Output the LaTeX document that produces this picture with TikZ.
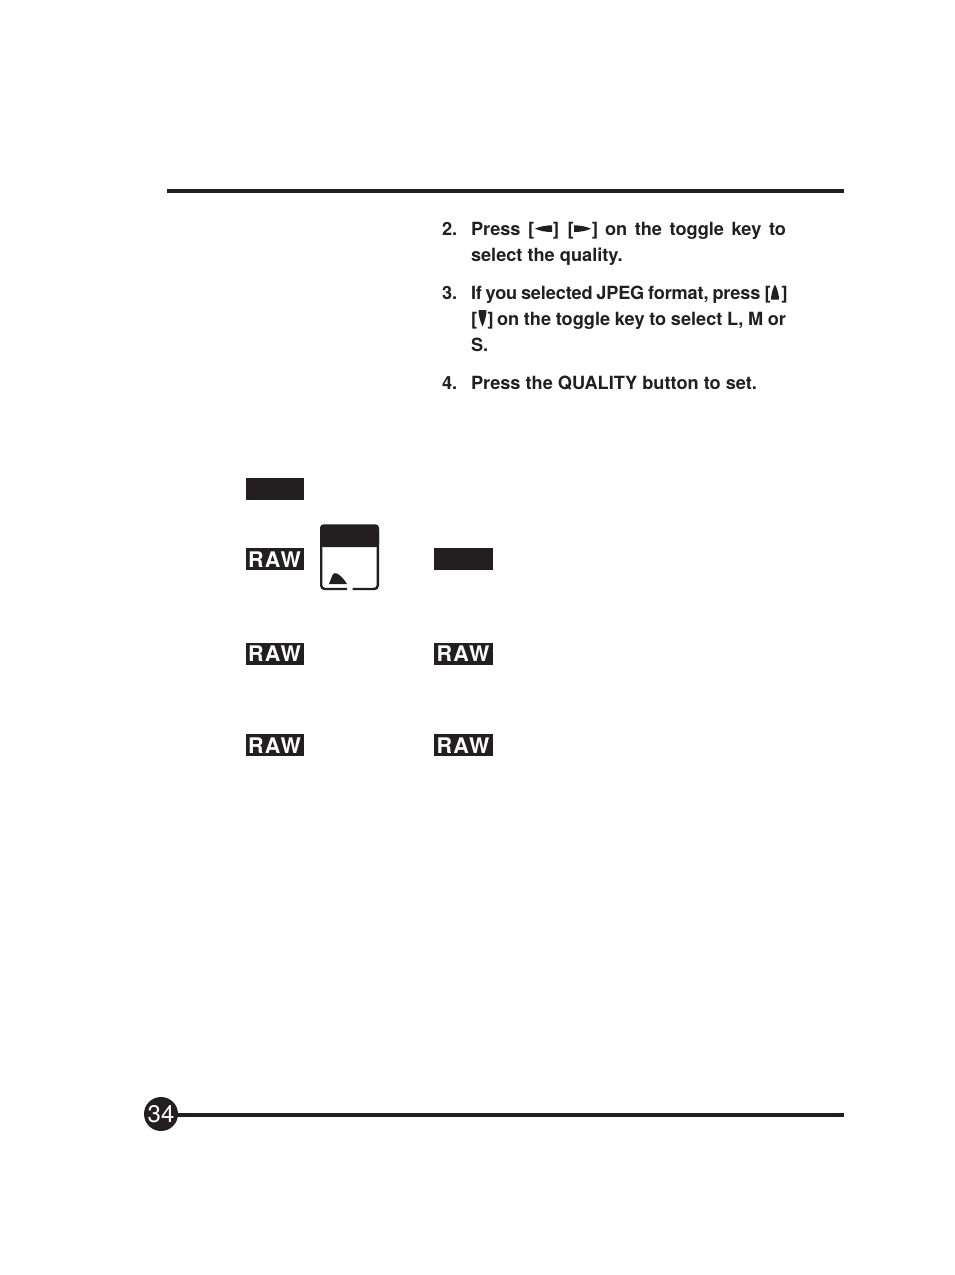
\documentclass[tikz,border=0pt]{standalone}
\usepackage{fontspec}
\setmainfont{TeX Gyre Heros}
\definecolor{ink}{HTML}{231F20}
\tikzset{
  body/.style={anchor=base west,inner sep=0pt,outer sep=0pt,text=ink,font=\fontsize{18.17}{22}\selectfont\bfseries},
  rawbox/.style={anchor=north west,fill=ink,inner sep=0pt,minimum height=22pt,text=white,font=\fontsize{21.5}{22}\selectfont\bfseries},
  glyph/.style={fill=ink,draw=none},
  rule/.style={fill=ink,draw=none}
}
\newcommand{\rawtext}{\addfontfeature{LetterSpace=6}RAW\hspace*{1.2pt}}
\begin{document}
\begin{tikzpicture}[x=1pt,y=-1pt]
\useasboundingbox (0,0) rectangle (954,1275);
\fill[white] (0,0) rectangle (954,1275);
% rules
\fill[rule] (167,189) rectangle (844,193);
\fill[rule] (167,1113) rectangle (844,1117);
\node[circle,fill=ink,minimum size=34pt,inner sep=0pt,text=white,font=\fontsize{24}{26}\selectfont] (pg) at (161,1114) {\raisebox{0.7pt}{34}};
% step 2
\node[body] (n2) at (442,235) {2.};
\node[body] (w2a) at (471,235) {Press};
\node[body] (b2a) at (528,235) {[};
\node[body] (b2b) at (553,235) {]};
\node[body] (b2c) at (567.5,235) {[};
\node[body] (b2d) at (592,235) {]};
\node[body] (w2b) at (605,235) {\makebox[181pt][s]{on the toggle key to}};
\fill[glyph] (535,228.7) .. controls (540,226.5) and (546,225.3) .. (552,225.3) -- (552,232) .. controls (546,232) and (540,231) .. (535,228.7) -- cycle;
\fill[glyph] (574,225.3) .. controls (580,225.3) and (586,226.5) .. (591,228.7) .. controls (586,231) and (580,232) .. (574,232) -- cycle;
\node[body] (l2b) at (471,261) {select the quality.};
% step 3
\node[body] (n3) at (442,299) {3.};
\node[body] (l3a) at (471,299) {\addfontfeature{LetterSpace=-0.8}\makebox[289.5pt][s]{If you selected JPEG format, press}};
\node[body] (b3o) at (764.5,299) {[};
\fill[glyph] (771,299.5) .. controls (771,295) and (772.5,289) .. (775,284.5) .. controls (777.5,289) and (779,295) .. (779,299.5) -- cycle;
\node[body] (b3a) at (781.5,299) {]};
\node[body] (b3b) at (471,325) {[};
\fill[glyph] (478.5,310) -- (486.5,310) .. controls (486.5,315) and (485,321) .. (482.5,326.5) .. controls (480,321) and (478.5,315) .. (478.5,310) -- cycle;
\node[body] (b3c) at (487.5,325) {]};
\node[body] (l3b) at (497,325) {\makebox[289pt][s]{on the toggle key to select L, M or}};
\node[body] (l3c) at (471,351) {S.};
% step 4
\node[body] (n4) at (442,389) {4.};
\node[body] (l4) at (471,389) {Press the QUALITY button to set.};
% black labels
\node[rawbox,minimum width=58pt] (k1) at (246,478) {};
\node[rawbox,minimum width=58pt] (k2) at (246,548) {\rawtext};
\node[rawbox,minimum width=59pt] (k3) at (434,548) {};
\node[rawbox,minimum width=58pt] (k4) at (246,642.7) {\rawtext};
\node[rawbox,minimum width=59pt] (k5) at (434,642.7) {\rawtext};
\node[rawbox,minimum width=58pt] (k6) at (246,734) {\rawtext};
\node[rawbox,minimum width=59pt] (k7) at (434,734) {\rawtext};
% display icon
\fill[ink,rounded corners=3.5pt] (320,547) -- (320,524.3) -- (379,524.3) -- (379,547) -- cycle;
\fill[ink] (320,538) rectangle (379,547);
\draw[ink,line width=2.4pt,rounded corners=3.5pt] (347,589) -- (321.2,589) -- (321.2,530);
\draw[ink,line width=2.4pt,rounded corners=3.5pt] (352.5,589) -- (377.8,589) -- (377.8,530);
\fill[glyph] (329,584) -- (332.5,575) .. controls (333.5,573) and (335,572.6) .. (337,573.5) .. controls (340,575) and (344,579) .. (347,584) -- cycle;
\end{tikzpicture}
\end{document}
